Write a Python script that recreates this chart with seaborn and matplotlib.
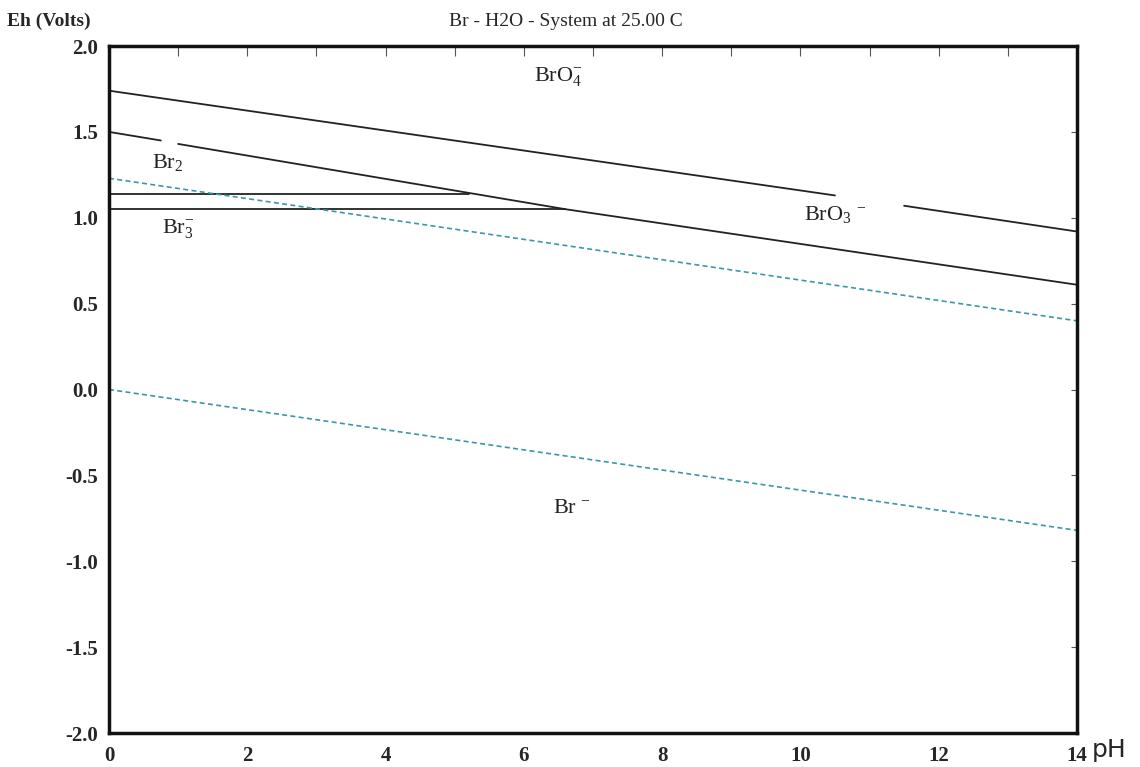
import numpy as np
import pandas as pd
import seaborn as sns
import matplotlib.pyplot as plt

# boundary lines (pH, Eh)
bro4_ph_a = [0.0, 10.5]
bro4_eh_a = [1.74, 1.13]
bro4_ph_b = [11.5, 14.0]
bro4_eh_b = [1.07, 0.92]

bro3_ph_a = [0.0, 0.75]
bro3_eh_a = [1.50, 1.45]
bro3_ph_b = [1.0, 6.6, 14.0]
bro3_eh_b = [1.43, 1.05, 0.61]

br2_ph = [0.0, 5.2]
br2_eh = [1.14, 1.14]
br3_ph = [0.0, 6.6]
br3_eh = [1.05, 1.05]

# water stability lines
h2o_top_ph = [0.0, 14.0]
h2o_top_eh = [1.23, 0.40]
h2o_bot_ph = [0.0, 14.0]
h2o_bot_eh = [0.0, -0.82]

species = ["BrO$_\\mathrm{4}^{\\mathrm{-}}$", "Br$_\\mathrm{2}$", "Br$_\\mathrm{3}^{\\mathrm{-}}$",
           "BrO$_\\mathrm{3}$ $^{\\mathrm{-}}$", "Br $^{\\mathrm{-}}$"]
species_ph = [6.5, 0.85, 1.0, 10.5, 6.7]
species_eh = [1.82, 1.32, 0.94, 1.02, -0.69]

sns.set_style("white")
plt.rcParams['font.family'] = ['Liberation Serif', 'DejaVu Serif']
plt.rcParams['mathtext.fontset'] = 'custom'
plt.rcParams['mathtext.rm'] = 'Liberation Serif'
plt.rcParams['mathtext.it'] = 'Liberation Serif:italic'
plt.rcParams['mathtext.bf'] = 'Liberation Serif:bold'

fig = plt.figure(figsize=(11.4, 7.67), dpi=100)
ax = fig.add_axes([0.0956, 0.0443, 0.8491, 0.8957])

solid = [(bro4_ph_a, bro4_eh_a), (bro4_ph_b, bro4_eh_b),
         (bro3_ph_a, bro3_eh_a), (bro3_ph_b, bro3_eh_b),
         (br2_ph, br2_eh), (br3_ph, br3_eh)]
for xs, ys in solid:
    sns.lineplot(x=xs, y=ys, ax=ax, color='#222222', linewidth=1.3, sort=False)

for xs, ys in [(h2o_top_ph, h2o_top_eh), (h2o_bot_ph, h2o_bot_eh)]:
    sns.lineplot(x=xs, y=ys, ax=ax, color='#3a98a6', linewidth=1.2,
                 linestyle=(0, (3, 2)))

for lab, x, y in zip(species, species_ph, species_eh):
    ax.text(x, y, lab, fontsize=16, ha='center', va='center', color='#222222')

ax.set_xlim(0, 14)
ax.set_ylim(-2.0, 2.0)
ax.set_xticks(np.arange(0, 15, 2))
ax.set_xticks(np.arange(0, 15, 1), minor=True)
ax.set_yticks(np.arange(-2.0, 2.01, 0.5))
ax.set_yticklabels([f"{v:.1f}" for v in np.arange(-2.0, 2.01, 0.5)])
ax.tick_params(axis='both', which='both', direction='in', top=True, right=True,
               labelsize=15, length=7, width=0.8, color='#555555', pad=8)
ax.tick_params(axis='y', which='both', length=4)
ax.tick_params(axis='x', which='major', pad=9)
for t in ax.get_xticklabels() + ax.get_yticklabels():
    t.set_fontweight('bold')
for s in ax.spines.values():
    s.set_linewidth(2.5)
    s.set_color('#111111')

fig.text(0.006, 0.972, "Eh (Volts)", fontsize=14, fontweight='bold', ha='left', va='center')
fig.text(0.496, 0.972, "Br - H2O - System at 25.00 C", fontsize=14, ha='center', va='center')
fig.text(0.958, 0.022, "pH", fontsize=18, family='DejaVu Sans', ha='left', va='center')

fig.savefig("out.png", dpi=100)
